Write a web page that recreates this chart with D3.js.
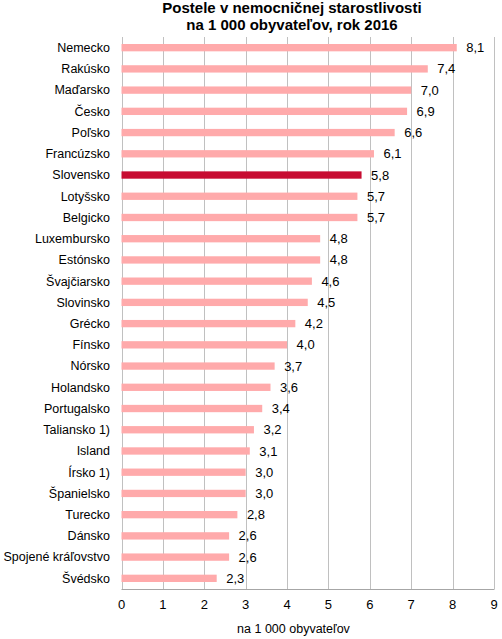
<!DOCTYPE html>
<html><head><meta charset="utf-8">
<script src="https://cdn.jsdelivr.net/npm/d3@7"></script>
<style>body{margin:0;background:#fff;}svg{display:block;font-family:"Liberation Sans",Arial,sans-serif;}</style>
</head><body>
<svg id="c" width="502" height="639"></svg>
<script>
const countries = ["Nemecko","Rakúsko","Maďarsko","Česko","Poľsko","Francúzsko","Slovensko","Lotyšsko","Belgicko","Luxembursko","Estónsko","Švajčiarsko","Slovinsko","Grécko","Fínsko","Nórsko","Holandsko","Portugalsko","Taliansko 1)","Island","Írsko 1)","Španielsko","Turecko","Dánsko","Spojené kráľovstvo","Švédsko"];
const beds = [8.1,7.4,7.0,6.9,6.6,6.1,5.8,5.7,5.7,4.8,4.8,4.6,4.5,4.2,4.0,3.7,3.6,3.4,3.2,3.1,3.0,3.0,2.8,2.6,2.6,2.3];
const highlight = "Slovensko";
const xTicks = [0,1,2,3,4,5,6,7,8,9];
const titleLines = ["Postele v nemocničnej starostlivosti","na 1 000 obyvateľov, rok 2016"];
const axisTitle = "na 1 000 obyvateľov";

const svg = d3.select("#c");
const m = {left:121.5, right:494, top:37, bottom:589};
const x = d3.scaleLinear().domain([0,9]).range([m.left,m.right]);
const y = d3.scaleBand().domain(countries).range([m.top,m.bottom]).paddingInner(0.655).paddingOuter(0.33);
const fmt = v => d3.format(".1f")(v).replace(".",",");

// gridlines
svg.append("g").selectAll("line").data(xTicks).join("line")
  .attr("x1",d=>Math.round(x(d))+0.5).attr("x2",d=>Math.round(x(d))+0.5)
  .attr("y1",m.top).attr("y2",m.bottom)
  .attr("stroke","#c0c0c0").attr("stroke-width",1);

// bottom axis line
svg.append("line").attr("x1",m.left).attr("x2",m.right+0.5).attr("y1",m.bottom+0.5).attr("y2",m.bottom+0.5)
  .attr("stroke","#a6a6a6");

// bars
const data = countries.map((c,i)=>({c, v:beds[i]}));
svg.append("g").selectAll("rect").data(data).join("rect")
  .attr("x",x(0)).attr("y",d=>y(d.c)).attr("width",d=>x(d.v)-x(0)).attr("height",y.bandwidth())
  .attr("fill",d=>d.c===highlight?"#c70d32":"#ffaaab");

// value labels
svg.append("g").selectAll("text").data(data).join("text")
  .attr("x",d=>x(d.v)+9.5).attr("y",d=>y(d.c)+y.bandwidth()/2).attr("dy","0.35em")
  .attr("font-size",13).attr("fill","#000").text(d=>fmt(d.v));

// category labels
svg.append("g").selectAll("text").data(countries).join("text")
  .attr("x",110).attr("y",d=>y(d)+y.bandwidth()/2).attr("dy","0.35em")
  .attr("text-anchor","end").attr("font-size",12.5).attr("fill","#000").text(d=>d);

// x tick labels
svg.append("g").selectAll("text").data(xTicks).join("text")
  .attr("x",d=>x(d)).attr("y",609).attr("text-anchor","middle")
  .attr("font-size",13).attr("fill","#000").text(d=>d);

// axis title
svg.append("text").attr("x",293.5).attr("y",633).attr("text-anchor","middle")
  .attr("font-size",12.5).attr("fill","#000").text(axisTitle);

// title
svg.append("g").selectAll("text").data(titleLines).join("text")
  .attr("x",292).attr("y",(d,i)=>12.8+i*16.8).attr("text-anchor","middle")
  .attr("font-size",15).attr("font-weight","bold").attr("fill","#000").text(d=>d);
</script>
</body></html>
